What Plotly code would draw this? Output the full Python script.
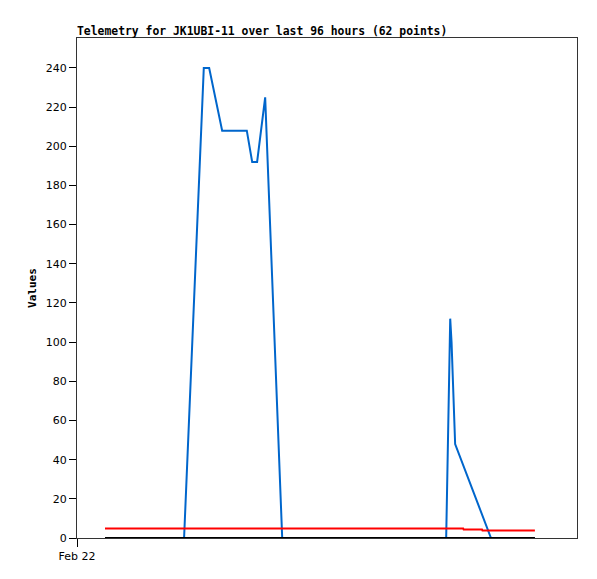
import plotly.graph_objects as go

# hours since Feb 22 00:00
blue_x = [6.25, 23.9, 28.3, 29.5, 32.4, 37.9, 39.1, 40.2, 42.0, 45.8, 82.4, 83.3, 83.6, 84.4, 92.4, 102.2]
blue_y = [0, 0, 240, 240, 208, 208, 192, 192, 225, 0, 0, 112, 100, 48, 0, 0]

red_x = [6.25, 86.2, 86.3, 90.4, 90.5, 102.2]
red_y = [4.8, 4.8, 4.3, 4.3, 3.8, 3.8]

black_x = [6.25, 102.2]
black_y = [0, 0]

tick_vals = [0]
tick_text = ["Feb 22"]

fig = go.Figure()
fig.add_trace(go.Scatter(x=blue_x, y=blue_y, mode="lines",
                         line=dict(color="#0066cc", width=2), showlegend=False))
fig.add_trace(go.Scatter(x=red_x, y=red_y, mode="lines",
                         line=dict(color="#ff0000", width=2), showlegend=False))
fig.add_trace(go.Scatter(x=black_x, y=black_y, mode="lines",
                         line=dict(color="#000000", width=2), showlegend=False))

# the page body adds an 8px margin on the left and top
W, H = 589, 571
fig.update_layout(
    width=W, height=H,
    margin=dict(l=69, r=20, t=30, b=41),
    paper_bgcolor="white", plot_bgcolor="white",
    title=dict(text="<b>Telemetry for JK1UBI-11 over last 96 hours (62 points)</b>",
               x=69/W, xanchor="left", y=1-23/H, yanchor="middle",
               font=dict(family="DejaVu Sans Mono", size=11.4, color="black")),
    font=dict(family="DejaVu Sans", size=11, color="black"),
)
fig.update_xaxes(range=[0, 111.6], tickvals=tick_vals, ticktext=tick_text,
                 ticks="outside", ticklen=8, tickcolor="black",
                 showgrid=False, zeroline=False,
                 showline=True, linecolor="#333333", linewidth=1, mirror=True,
                 tickfont=dict(family="DejaVu Sans", size=11))
fig.update_yaxes(range=[0, 255.3], dtick=20, tick0=0,
                 ticks="outside", ticklen=7, tickcolor="black",
                 showgrid=False, zeroline=False,
                 showline=True, linecolor="#333333", linewidth=1, mirror=True,
                 title=dict(text="<b>Values</b>", standoff=6,
                            font=dict(family="DejaVu Sans Mono", size=11)),
                 tickfont=dict(family="DejaVu Sans", size=11))

fig.write_html("out.html")
